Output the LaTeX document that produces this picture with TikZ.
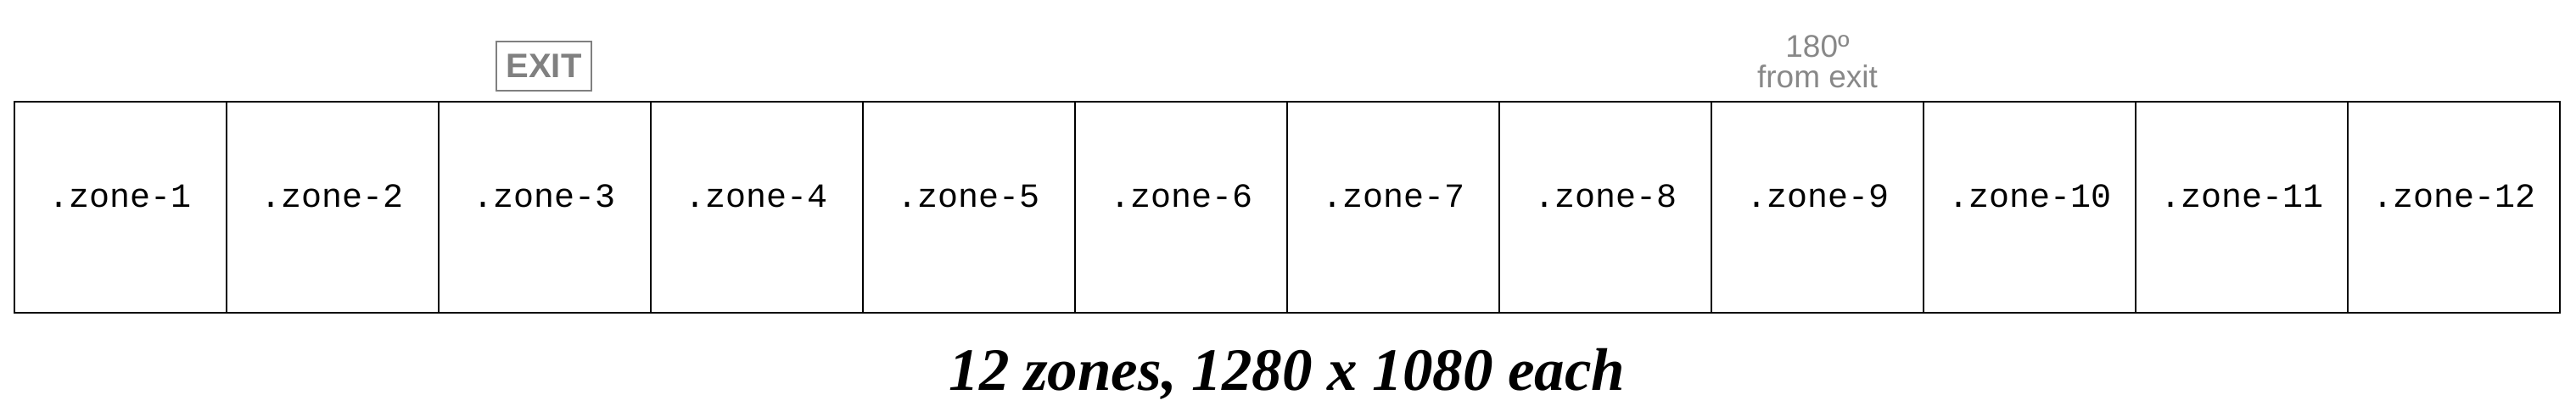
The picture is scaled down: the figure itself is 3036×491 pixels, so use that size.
\documentclass[tikz,border=0pt]{standalone}
\usepackage{fontspec}
\setmainfont{Liberation Serif}
\newfontfamily\labelfont{Liberation Mono}
\newfontfamily\notefont{Liberation Sans}
\definecolor{exitgray}{RGB}{128,128,128}
\definecolor{notegray}{RGB}{136,136,136}
\begin{document}
\begin{tikzpicture}[x=1pt,y=1pt,
  zonebox/.style={draw=black, line width=2pt, minimum width=250pt, minimum height=249pt,
    inner sep=0pt, outer sep=0pt, anchor=north west},
  zonelabel/.style={anchor=base, inner sep=0pt, font=\labelfont\fontsize{40}{44}\selectfont},
  exitbox/.style={draw=exitgray, line width=1.5pt, text=exitgray, minimum width=112pt,
    minimum height=58pt, inner sep=0pt, font=\notefont\bfseries\fontsize{40}{44}\selectfont},
  notetext/.style={anchor=base, inner sep=0pt, text=notegray, font=\notefont\fontsize{37}{40}\selectfont},
  captiontext/.style={anchor=base, inner sep=0pt, font=\bfseries\itshape\fontsize{71}{80}\selectfont}]
\useasboundingbox (0,0) rectangle (3036,-491);
\foreach \i in {1,...,12} {
  \node[zonebox] (z\i) at ({17+250*(\i-1)},-120) {};
  \node[zonelabel] (t\i) at ({142+250*(\i-1)},-244) {.zone-\i};
}
\node[exitbox] (exit) at (641,-78) {EXIT};
\node[notetext] (deg) at (2142,-67) {180º};
\node[notetext] (fromexit) at (2142,-103) {from exit};
\node[captiontext] (caption) at (1517,-460) {12 zones, 1280 x 1080 each};
\end{tikzpicture}
\end{document}
